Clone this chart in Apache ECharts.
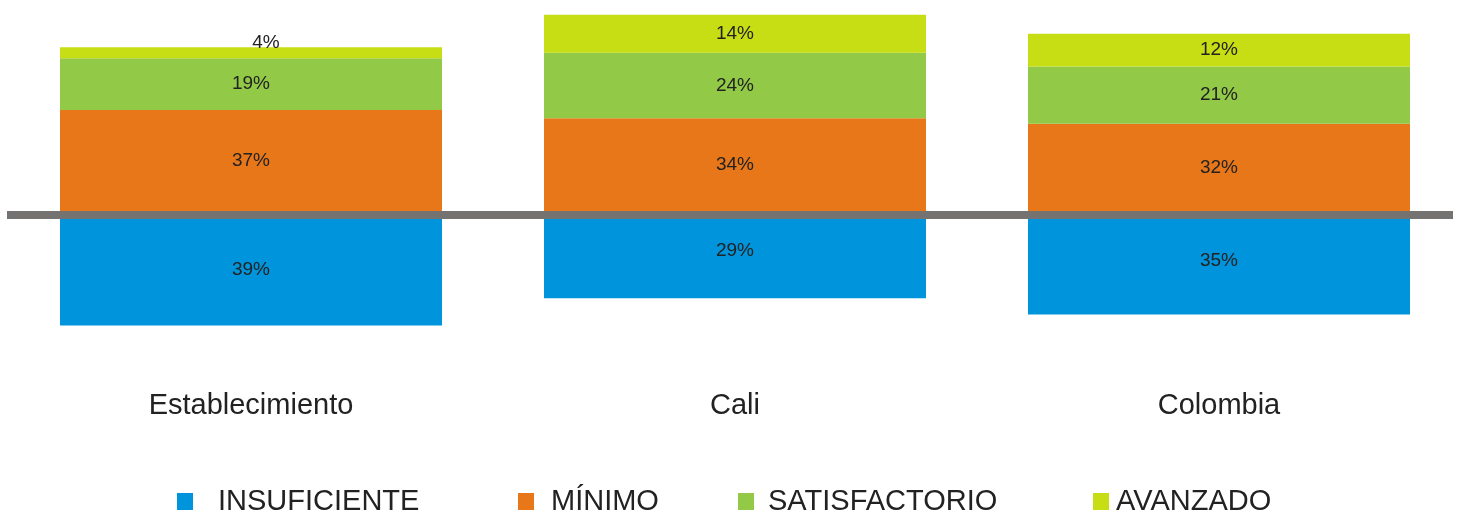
<!DOCTYPE html>
<html>
<head>
<meta charset="utf-8">
<script src="https://cdn.jsdelivr.net/npm/echarts@6/dist/echarts.min.js"></script>
<style>html,body{margin:0;padding:0;background:#fff}#c{width:1461px;height:511px}</style>
</head>
<body>
<div id="c"></div>
<script>
const categories = ['Establecimiento', 'Cali', 'Colombia'];
const insuficiente = [39, 29, 35];
const minimo = [37, 34, 32];
const satisfactorio = [19, 24, 21];
const avanzado = [4, 14, 12];
const seriesNames = ['INSUFICIENTE', 'MÍNIMO', 'SATISFACTORIO', 'AVANZADO'];
const colors = ['#0094dc', '#e87719', '#92c947', '#c8de14'];

const chart = echarts.init(document.getElementById('c'));
const font = '"Liberation Sans", Arial, Helvetica, sans-serif';
const lbl = {
  show: true, position: 'inside', color: '#222', fontSize: 19, fontFamily: font,
  formatter: p => Math.abs(p.value) + '%'
};
const barW = 382;

function legendAt(i, left, pad) {
  return {
    data: [seriesNames[i]], left: left, top: 482, icon: 'rect',
    itemWidth: 16, itemHeight: 17,
    textStyle: { fontSize: 29, fontFamily: font, color: '#222', padding: [0, 0, 0, pad] }
  };
}

const negLabelOffsets = [[0, -2], [0, -8], [0, -6]];
const avLabelOffsets = [[15, -10], [0, 0], [0, 0]];

chart.setOption({
  animation: false,
  grid: [
    { left: 9, width: 1457, top: 1, height: 210 },
    { left: 9, width: 1457, top: 219, height: 172 },
    { left: 7, width: 1446, top: 0, height: 215 }
  ],
  xAxis: [
    { type: 'category', gridIndex: 0, data: categories, axisLine: { show: false }, axisTick: { show: false }, axisLabel: { show: false } },
    { type: 'category', gridIndex: 1, data: categories, axisLine: { show: false }, axisTick: { show: false },
      axisLabel: { show: true, fontSize: 29, fontFamily: font, color: '#222', margin: 0 } },
    { type: 'category', gridIndex: 2, data: categories, axisLine: { show: true, lineStyle: { color: '#747372', width: 8, cap: 'butt' } }, axisTick: { show: false }, axisLabel: { show: false } }
  ],
  yAxis: [
    { type: 'value', gridIndex: 0, min: 0, max: 77, show: false },
    { type: 'value', gridIndex: 1, min: -63, max: 0, show: false },
    { type: 'value', gridIndex: 2, min: 0, max: 1, show: false }
  ],
  legend: [
    legendAt(0, 172, 20),
    legendAt(1, 513, 12),
    legendAt(2, 733, 9),
    legendAt(3, 1088, 2)
  ],
  series: [
    { name: seriesNames[0], type: 'bar', xAxisIndex: 1, yAxisIndex: 1, barWidth: barW,
      itemStyle: { color: colors[0] },
      data: insuficiente.map((v, i) => ({ value: -v, label: { offset: negLabelOffsets[i] } })),
      label: lbl },
    { name: seriesNames[1], type: 'bar', stack: 'pos', xAxisIndex: 0, yAxisIndex: 0, barWidth: barW,
      itemStyle: { color: colors[1] }, data: minimo, label: lbl },
    { name: seriesNames[2], type: 'bar', stack: 'pos', xAxisIndex: 0, yAxisIndex: 0, barWidth: barW,
      itemStyle: { color: colors[2] }, data: satisfactorio, label: lbl },
    { name: seriesNames[3], type: 'bar', stack: 'pos', xAxisIndex: 0, yAxisIndex: 0, barWidth: barW,
      itemStyle: { color: colors[3] },
      data: avanzado.map((v, i) => ({ value: v, label: { offset: avLabelOffsets[i] } })),
      label: lbl }
  ]
});
</script>
</body>
</html>
